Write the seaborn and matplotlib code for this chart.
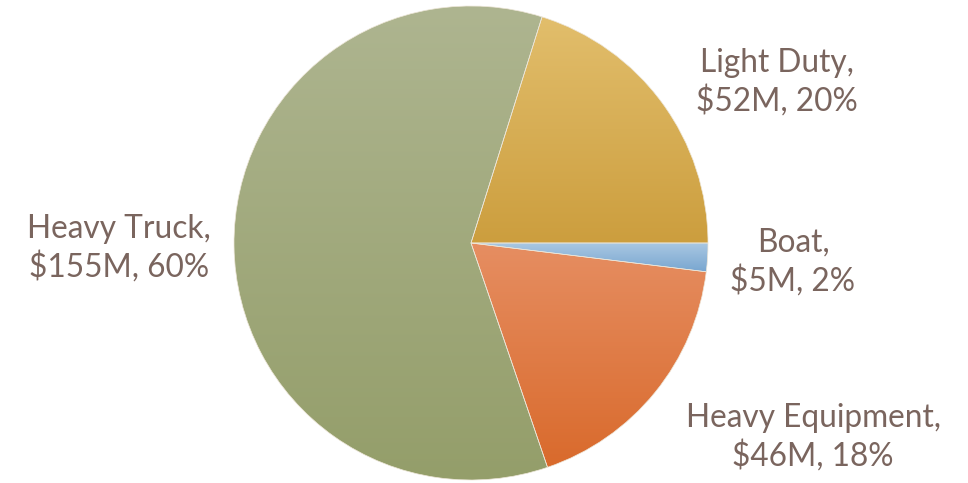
import numpy as np
import matplotlib
matplotlib.use("Agg")
import matplotlib.pyplot as plt
import seaborn as sns

# Segment revenue, in millions of dollars, listed counter-clockwise from 3 o'clock
segments = ["Light Duty", "Heavy Truck", "Heavy Equipment", "Boat"]
revenue_musd = [52, 155, 46, 5]

# Vertical gradient (top colour, bottom colour) for each slice
gradient_top = ["#E2BE6C", "#AEB590", "#E68E62", "#A9C7E2"]
gradient_bottom = ["#CC9E3E", "#949E6A", "#D96A2C", "#78A6D0"]

label_color = "#7A655E"

sns.set_theme(style="white")
plt.rcParams["font.family"] = ["Lato", "DejaVu Sans"]

W, H = 968, 483
fig = plt.figure(figsize=(W / 100, H / 100), dpi=100)
fig.patch.set_facecolor("white")

# Pie occupies a square axes centred at (471, 243) px with radius 237 px
cx, cy, r = 471, 243, 237
ax = fig.add_axes([(cx - r) / W, (H - cy - r) / H, 2 * r / W, 2 * r / H])

wedges, _ = ax.pie(
    revenue_musd,
    startangle=0,
    counterclock=True,
    radius=1.0,
    wedgeprops=dict(edgecolor="#EDE6D8", linewidth=0.5),
)
ax.set_aspect("equal")
ax.axis("off")

ramp = np.linspace(0, 1, 256).reshape(-1, 1)
for wedge, top, bottom in zip(wedges, gradient_top, gradient_bottom):
    cmap = sns.blend_palette([top, bottom], as_cmap=True)
    ext = wedge.get_path().get_extents()
    img = ax.imshow(
        ramp, cmap=cmap, aspect="auto", origin="upper",
        extent=(ext.x0, ext.x1, ext.y0, ext.y1),
        interpolation="bilinear", zorder=1,
    )
    img.set_clip_path(wedge)
    wedge.set_facecolor("none")
    wedge.set_zorder(2)

ax.set_xlim(-1.0, 1.0)
ax.set_ylim(-1.0, 1.0)

total = sum(revenue_musd)
# Label anchor points (pixel centres of each two-line label block)
label_pos = {
    "Light Duty": (777, 82),
    "Heavy Truck": (119, 248),
    "Heavy Equipment": (813, 437),
    "Boat": (793, 262),
}
for name, val in zip(segments, revenue_musd):
    pct = round(100 * val / total)
    px, py = label_pos[name]
    fig.text(
        px / W, 1 - py / H, f"{name},\n${val}M, {pct}%",
        ha="center", va="center", multialignment="center",
        color=label_color, fontsize=22.8, linespacing=1.26,
    )

fig.savefig("out.png", dpi=100, facecolor="white")
